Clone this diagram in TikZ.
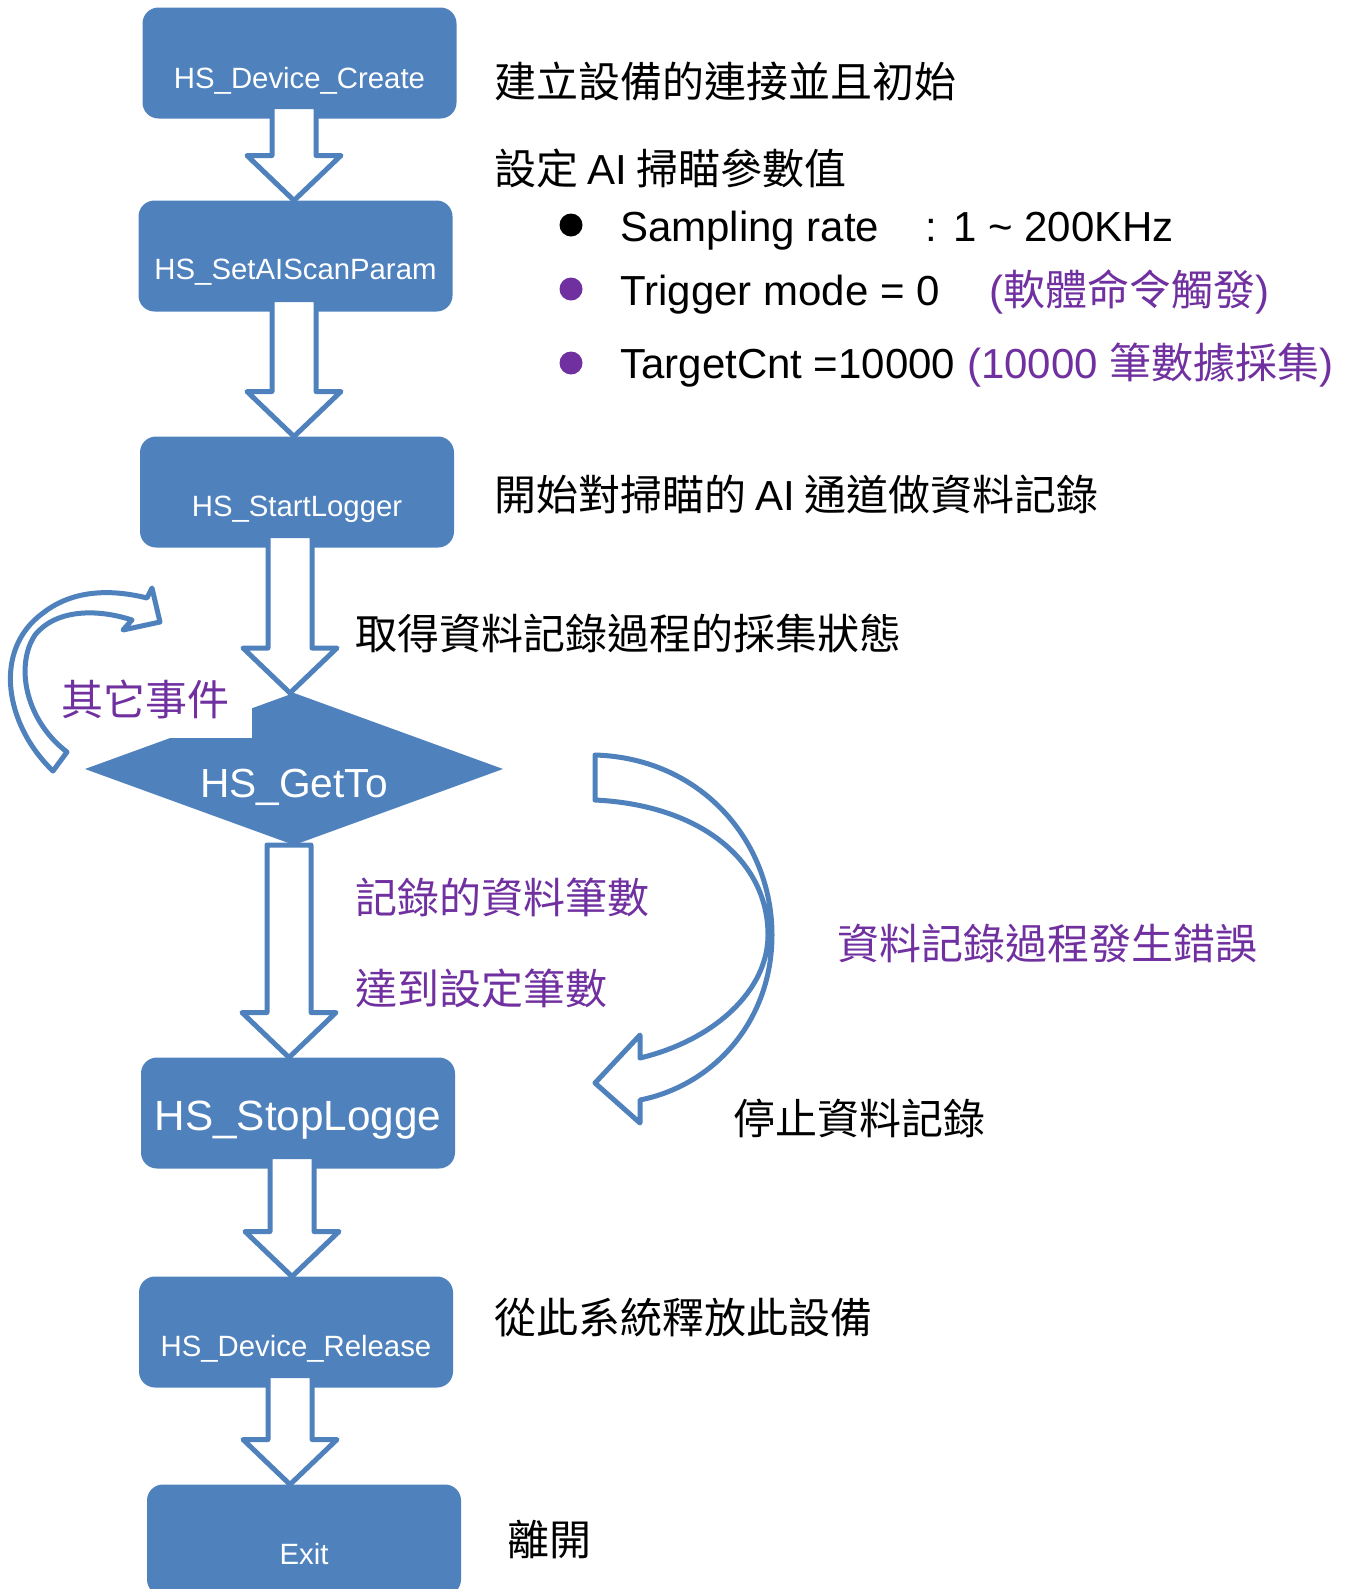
\documentclass[tikz,border=0pt]{standalone}
\usepackage{fontspec}
\setmainfont{Liberation Sans}
\newfontfamily\cjk{Noto Sans CJK TC}
\usetikzlibrary{shapes.geometric,calc}
\definecolor{boxblue}{HTML}{4F81BD}
\definecolor{notepurple}{HTML}{7030A0}
\newcommand{\notesize}{\fontsize{31.5}{38}\selectfont}
\newcommand{\labelsize}{\fontsize{22}{26}\selectfont}
\tikzstyle{procbox} = [fill=boxblue, rectangle, rounded corners=12pt, minimum width=235.5pt, minimum height=83.25pt, inner sep=0pt, outer sep=0pt]
\tikzstyle{decision} = [fill=boxblue, diamond, minimum width=313.5pt, minimum height=114pt, inner sep=0pt, outer sep=0pt]
\tikzstyle{boxlabel} = [text=white, anchor=base, inner sep=0pt, font=\labelsize]
\tikzstyle{note} = [anchor=west, inner sep=0pt, font=\notesize\cjk]
\tikzstyle{notealt} = [note, text=notepurple]
\tikzstyle{bullettext} = [anchor=base west, inner sep=0pt, font=\notesize]
\tikzstyle{dot} = [circle, inner sep=0pt, minimum size=17.25pt]
\tikzstyle{hollow} = [draw=boxblue, line width=3.75pt, fill=white, line join=round]

% hollow block arrow, straight down from #2 to #3, moved sideways by #4
\newcommand{\flowarrow}[4][12]{%
  \path ($(#3.north)+(#4,0)$) coordinate (tip) +(-22,0) coordinate (tipL) +(22,0) coordinate (tipR)
        (#2.south) +(0,-#1) coordinate (tail);
  \draw[hollow] (tip) -- ++(-47,-45) -- ++(25,0) -- (tipL |- tail) -- (tipR |- tail)
        -- ($(tipR)+(0,-45)$) -- ++(25,0) -- cycle;}

\begin{document}
\begin{tikzpicture}[x=0.75pt, y=-0.75pt]
\clip (0,0) rectangle (1354,1589);

\node[procbox] (create) at (299.5,63) {};
\node[procbox] (setparam) at (295.5,256) {};
\node[procbox] (startlog) at (297,492) {};
\node[decision] (getto) at (294,769) {};
\node[procbox] (stoplog) at (298,1113) {};
\node[procbox] (release) at (296,1332) {};
\node[procbox] (exit) at (304,1540) {};
\fill[white] (150,685) rectangle (252,738);

\node[boxlabel] (create-t) at ($(create)+(0,25.5)$) {HS\_Device\_Create};
\node[boxlabel] (setparam-t) at ($(setparam)+(0,23.5)$) {HS\_SetAIScanParam};
\node[boxlabel] (startlog-t) at ($(startlog)+(0,24.5)$) {HS\_StartLogger};
\node[boxlabel, font=\fontsize{30.5}{36}\selectfont] (getto-t) at ($(getto)+(0,28.5)$) {HS\_GetTo};
\node[boxlabel, font=\fontsize{31.7}{38}\selectfont] (stoplog-t) at ($(stoplog)+(0,17)$) {HS\_StopLogge};
\node[boxlabel] (release-t) at ($(release)+(0,24.5)$) {HS\_Device\_Release};
\node[boxlabel] (exit-t) at ($(exit)+(0,24.5)$) {Exit};

\flowarrow{create}{setparam}{-1.5}
\flowarrow{setparam}{startlog}{-3}
\flowarrow{startlog}{getto}{-4}
\flowarrow[0]{getto}{stoplog}{-9}
\flowarrow{stoplog}{release}{-4}
\flowarrow{release}{exit}{-14}

% loop back and error branch
\draw[hollow] (53,771) .. controls (5,725) and (-8,650) .. (43,613)
  .. controls (75,588) and (115,590) .. (147,598) -- (152,588) -- (160,622) -- (123,630) -- (132,620)
  .. controls (95,608) and (55,610) .. (35,635) .. controls (15,665) and (25,720) .. (67,752) -- cycle;
\draw[hollow] (595,755) .. controls (700,758) and (772,840) .. (772,935)
  .. controls (772,1020) and (715,1085) .. (640,1100) -- (640,1123) -- (595,1083) -- (640,1035) -- (640,1058)
  .. controls (715,1040) and (768,990) .. (768,935) .. controls (768,860) and (700,805) .. (595,800) -- cycle;

\node[note] (n-create) at (494,81) {建立設備的連接並且初始};
\node[note] (n-param) at (494,168) {設定 {\rmfamily AI} 掃瞄參數值};
\node[note] (n-start) at (494,494) {開始對掃瞄的 {\rmfamily AI} 通道做資料記錄};
\node[note] (n-status) at (355,633) {取得資料記錄過程的採集狀態};
\node[notealt] (n-other) at (61,699) {其它事件};
\node[notealt] (n-count1) at (355,897) {記錄的資料筆數};
\node[notealt] (n-count2) at (355,988) {達到設定筆數};
\node[notealt] (n-error) at (837,943) {資料記錄過程發生錯誤};
\node[note] (n-stop) at (733,1118) {停止資料記錄};
\node[note] (n-release) at (494,1318) {從此系統釋放此設備};
\node[note] (n-exit) at (507,1539) {離開};

\node[dot, fill=black] (dot-rate) at (571,225) {};
\node[dot, fill=notepurple] (dot-trig) at (571,289) {};
\node[dot, fill=notepurple] (dot-cnt) at (571,363) {};
\node[bullettext] (b-rate) at (620,241) {Sampling rate\hspace{35pt}: 1 \textasciitilde{} 200KHz};
\node[bullettext] (b-trig) at (620,305) {Trigger mode = 0\hspace{37pt}{\color{notepurple}({\cjk 軟體命令觸發})}};
\node[bullettext] (b-cnt) at (620,378) {TargetCnt =10000 {\color{notepurple}(10000 {\cjk 筆數據採集})}};
\end{tikzpicture}
\end{document}
